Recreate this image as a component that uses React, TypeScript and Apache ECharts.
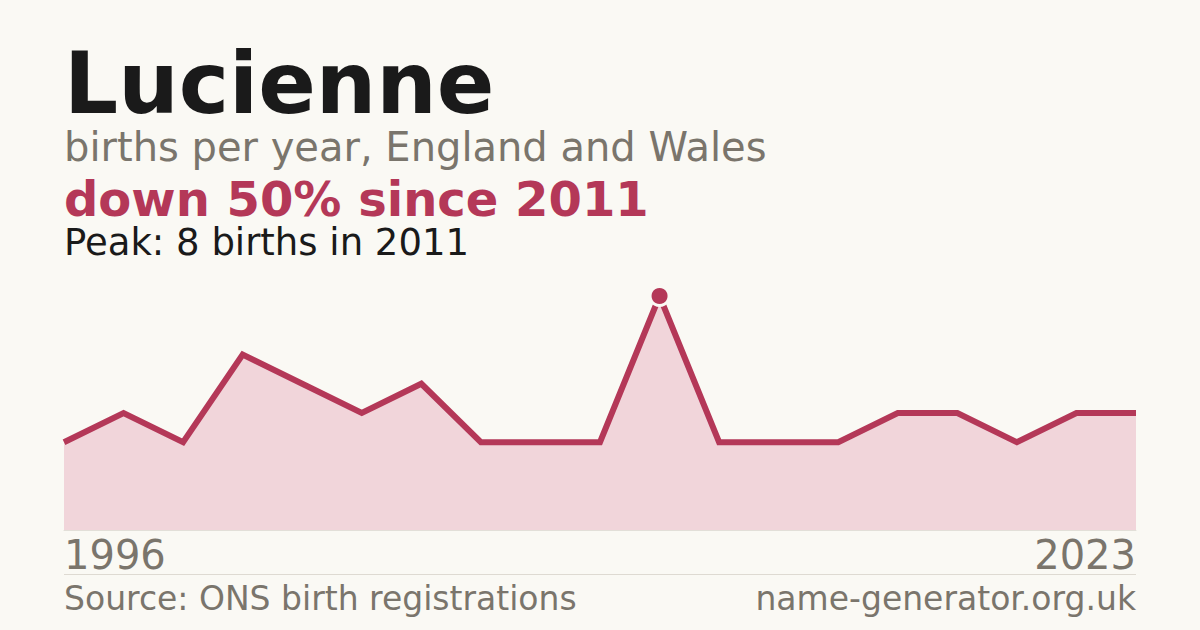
import React from 'react';
import * as echarts from 'echarts';

const YEARS = [
  '1996', '1997', '1998', '1999', '2000', '2001', '2002', '2003', '2005', '2008',
  '2011', '2012', '2014', '2016', '2017', '2018', '2020', '2022', '2023',
];
const BIRTHS = [3, 4, 3, 6, 5, 4, 5, 3, 3, 3, 8, 3, 3, 3, 4, 4, 3, 4, 4];

const NAME = 'Lucienne';
const SUBTITLE = 'births per year, England and Wales';
const CHANGE = 'down 50% since 2011';
const PEAK = 'Peak: 8 births in 2011';
const SOURCE = 'Source: ONS birth registrations';
const SITE = 'name-generator.org.uk';

const FONT = 'DejaVu Sans';
const BG = '#faf9f4';
const RED = '#b43858';
const GREY = '#7a756c';
const INK = '#1a1a1a';

const App: React.FC = () => {
  const chartRef = React.useRef<HTMLDivElement>(null);

  React.useEffect(() => {
    if (!chartRef.current) return;
    document.body.style.margin = '0';
    document.body.style.background = BG;
    const chart = echarts.init(chartRef.current, undefined, { renderer: 'svg' });
    const last = YEARS.length - 1;

    chart.setOption({
      animation: false,
      backgroundColor: BG,
      grid: { left: 64, right: 64, top: 296, bottom: 100 },
      xAxis: {
        type: 'category',
        data: YEARS,
        boundaryGap: false,
        axisLine: { show: true, lineStyle: { color: '#e2dfd8', width: 1 } },
        axisTick: { show: false },
        splitLine: { show: false },
        axisLabel: {
          interval: (i: number) => i === 0 || i === last,
          alignMinLabel: 'left',
          alignMaxLabel: 'right',
          margin: 5,
          color: GREY,
          fontFamily: FONT,
          fontSize: 40,
        },
      },
      yAxis: { type: 'value', min: 0, max: 8, show: false },
      series: [
        {
          type: 'line',
          data: BIRTHS,
          symbol: 'none',
          lineStyle: { color: RED, width: 6, join: 'miter' },
          areaStyle: { color: '#f1d5da', opacity: 1 },
          markPoint: {
            symbol: 'circle',
            symbolSize: 19,
            data: [{ type: 'max' }],
            label: { show: false },
            itemStyle: { color: RED, borderColor: BG, borderWidth: 3 },
          },
        },
      ],
      graphic: [
        { type: 'text', left: 64, top: 41, style: { text: NAME, font: `bold 85px "${FONT}"`, fill: INK } },
        { type: 'text', left: 64, top: 127, style: { text: SUBTITLE, font: `40px "${FONT}"`, fill: GREY } },
        { type: 'text', left: 64, top: 175, style: { text: CHANGE, font: `bold 48px "${FONT}"`, fill: RED } },
        { type: 'text', left: 64, top: 224, style: { text: PEAK, font: `37px "${FONT}"`, fill: INK } },
        {
          type: 'line',
          shape: { x1: 64, y1: 574.5, x2: 1136, y2: 574.5 },
          style: { stroke: '#dedad2', lineWidth: 1 },
        },
        { type: 'text', left: 64, top: 582, style: { text: SOURCE, font: `33px "${FONT}"`, fill: GREY } },
        { type: 'text', right: 64, top: 582, style: { text: SITE, font: `33px "${FONT}"`, fill: GREY } },
      ],
    });

    return () => {
      chart.dispose();
    };
  }, []);

  return <div ref={chartRef} style={{ width: 1200, height: 630 }} />;
};

export default App;
